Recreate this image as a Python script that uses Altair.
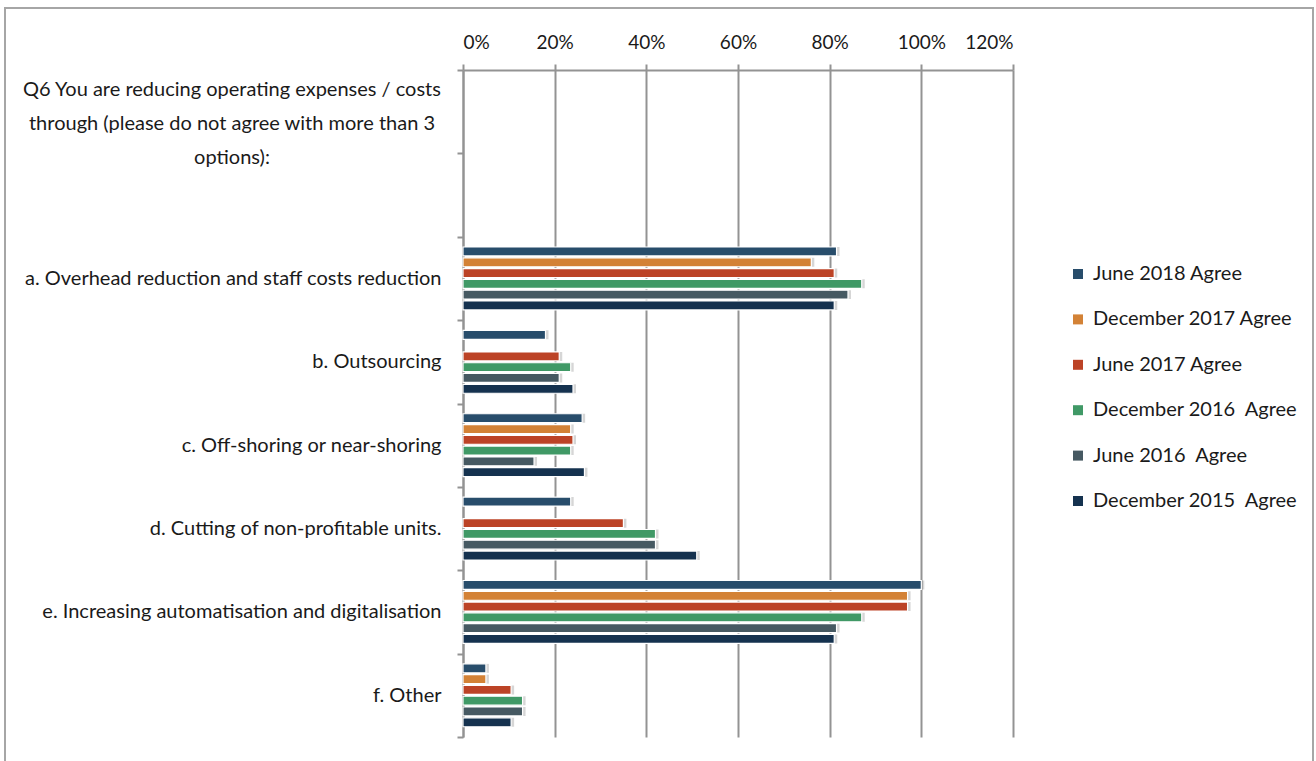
import altair as alt
import pandas as pd

categories = [
    "Q6",
    " ",
    "a. Overhead reduction and staff costs reduction",
    "b. Outsourcing ",
    "c. Off-shoring or near-shoring",
    "d. Cutting of non-profitable units.",
    "e. Increasing automatisation and digitalisation",
    "f. Other",
]
question = "Q6 You are reducing operating expenses / costs\nthrough (please do not agree with more than 3\noptions):"

series = [
    "June 2018 Agree",
    "December 2017 Agree",
    "June 2017 Agree",
    "December 2016\u00a0 Agree",
    "June 2016\u00a0 Agree",
    "December 2015\u00a0 Agree",
]
colors = ["#284D6B", "#D38236", "#BC4326", "#409966", "#465962", "#15324F"]

# values in %, per category a..f, per series (None = no bar)
vals_a = [81.5, 76, 81, 87, 84, 81]
vals_b = [18, None, 21, 23.5, 21, 24]
vals_c = [26, 23.5, 24, 23.5, 15.5, 26.5]
vals_d = [23.5, None, 35, 42, 42, 51]
vals_e = [100, 97, 97, 87, 81.5, 81]
vals_f = [5, 5, 10.5, 13, 13, 10.5]

rows = []
for cat, vals in zip(categories[2:], [vals_a, vals_b, vals_c, vals_d, vals_e, vals_f]):
    for s, v in zip(series, vals):
        if v is not None:
            rows.append({"cat": cat, "series": s, "value": v / 100})
df = pd.DataFrame(rows)

FONT = "Lato"
GRAY = "#939393"
TXT = "#1a1a1a"

yscale = alt.Scale(domain=categories, paddingInner=0, paddingOuter=0)
yoff = alt.YOffset("series:N", sort=series, scale=alt.Scale(paddingInner=0.17, paddingOuter=0.95))

base = alt.Chart(df)

shadow = base.mark_bar(color="#000000", opacity=0.16, xOffset=3, x2Offset=3, yOffset=3, y2Offset=3).encode(
    x=alt.X("value:Q"),
    y=alt.Y("cat:N", scale=yscale),
    yOffset=yoff,
)

bars = base.mark_bar(stroke="white", strokeWidth=1.2).encode(
    x=alt.X(
        "value:Q",
        scale=alt.Scale(domain=[0, 1.2]),
        axis=alt.Axis(
            orient="top", format=".0%", values=[0, 0.2, 0.4, 0.6, 0.8, 1.0, 1.2],
            grid=True, gridColor=GRAY, gridWidth=2,
            domainColor=GRAY, domainWidth=2, tickColor=GRAY, tickWidth=2, tickSize=6,
            labelFontSize=19, labelFont=FONT, labelColor=TXT, labelPadding=12,
            title=None,
        ),
    ),
    y=alt.Y(
        "cat:N", scale=yscale,
        axis=alt.Axis(
            title=None, tickBand="extent", domainColor=GRAY, domainWidth=2,
            tickColor=GRAY, tickWidth=2, tickSize=6,
            labelFontSize=20, labelFont=FONT, labelColor=TXT, labelPadding=16,
            labelExpr="datum.value == 'Q6' ? '' : datum.label",
            labelLimit=500,
        ),
    ),
    yOffset=yoff,
    color=alt.Color(
        "series:N", sort=series, scale=alt.Scale(domain=series, range=colors),
        legend=alt.Legend(
            title=None, orient="none", legendX=605, legendY=194,
            symbolType="square", symbolSize=100, symbolStrokeWidth=0,
            labelFontSize=20, labelFont=FONT, labelColor=TXT,
            rowPadding=25.4, labelOffset=5, labelLimit=400,
        ),
    ),
)

qdf = pd.DataFrame({"cat": ["Q6"], "label": [question]})
qtext = alt.Chart(qdf).mark_text(
    font=FONT, fontSize=20, color=TXT, align="center", baseline="middle",
    lineBreak="\n", lineHeight=34, dy=-22,
).encode(
    y=alt.Y("cat:N", scale=yscale),
    x=alt.value(-231),
    text="label:N",
)

frame = alt.Chart(pd.DataFrame({"k": [0]})).mark_rect(
    fill=None, stroke="#a6a6a6", strokeWidth=2
).encode(
    x=alt.value(-458), x2=alt.value(850), y=alt.value(-62), y2=alt.value(720)
)

chart = alt.layer(frame, shadow, bars, qtext).properties(
    width=550, height=667,
    padding={"left": 463, "top": 70, "right": 303, "bottom": 24},
    autosize=alt.AutoSizeParams(type="none"),
    background="white",
).configure_view(stroke=None)

chart.save("out.html", embed_options={"renderer": "svg", "actions": False})
